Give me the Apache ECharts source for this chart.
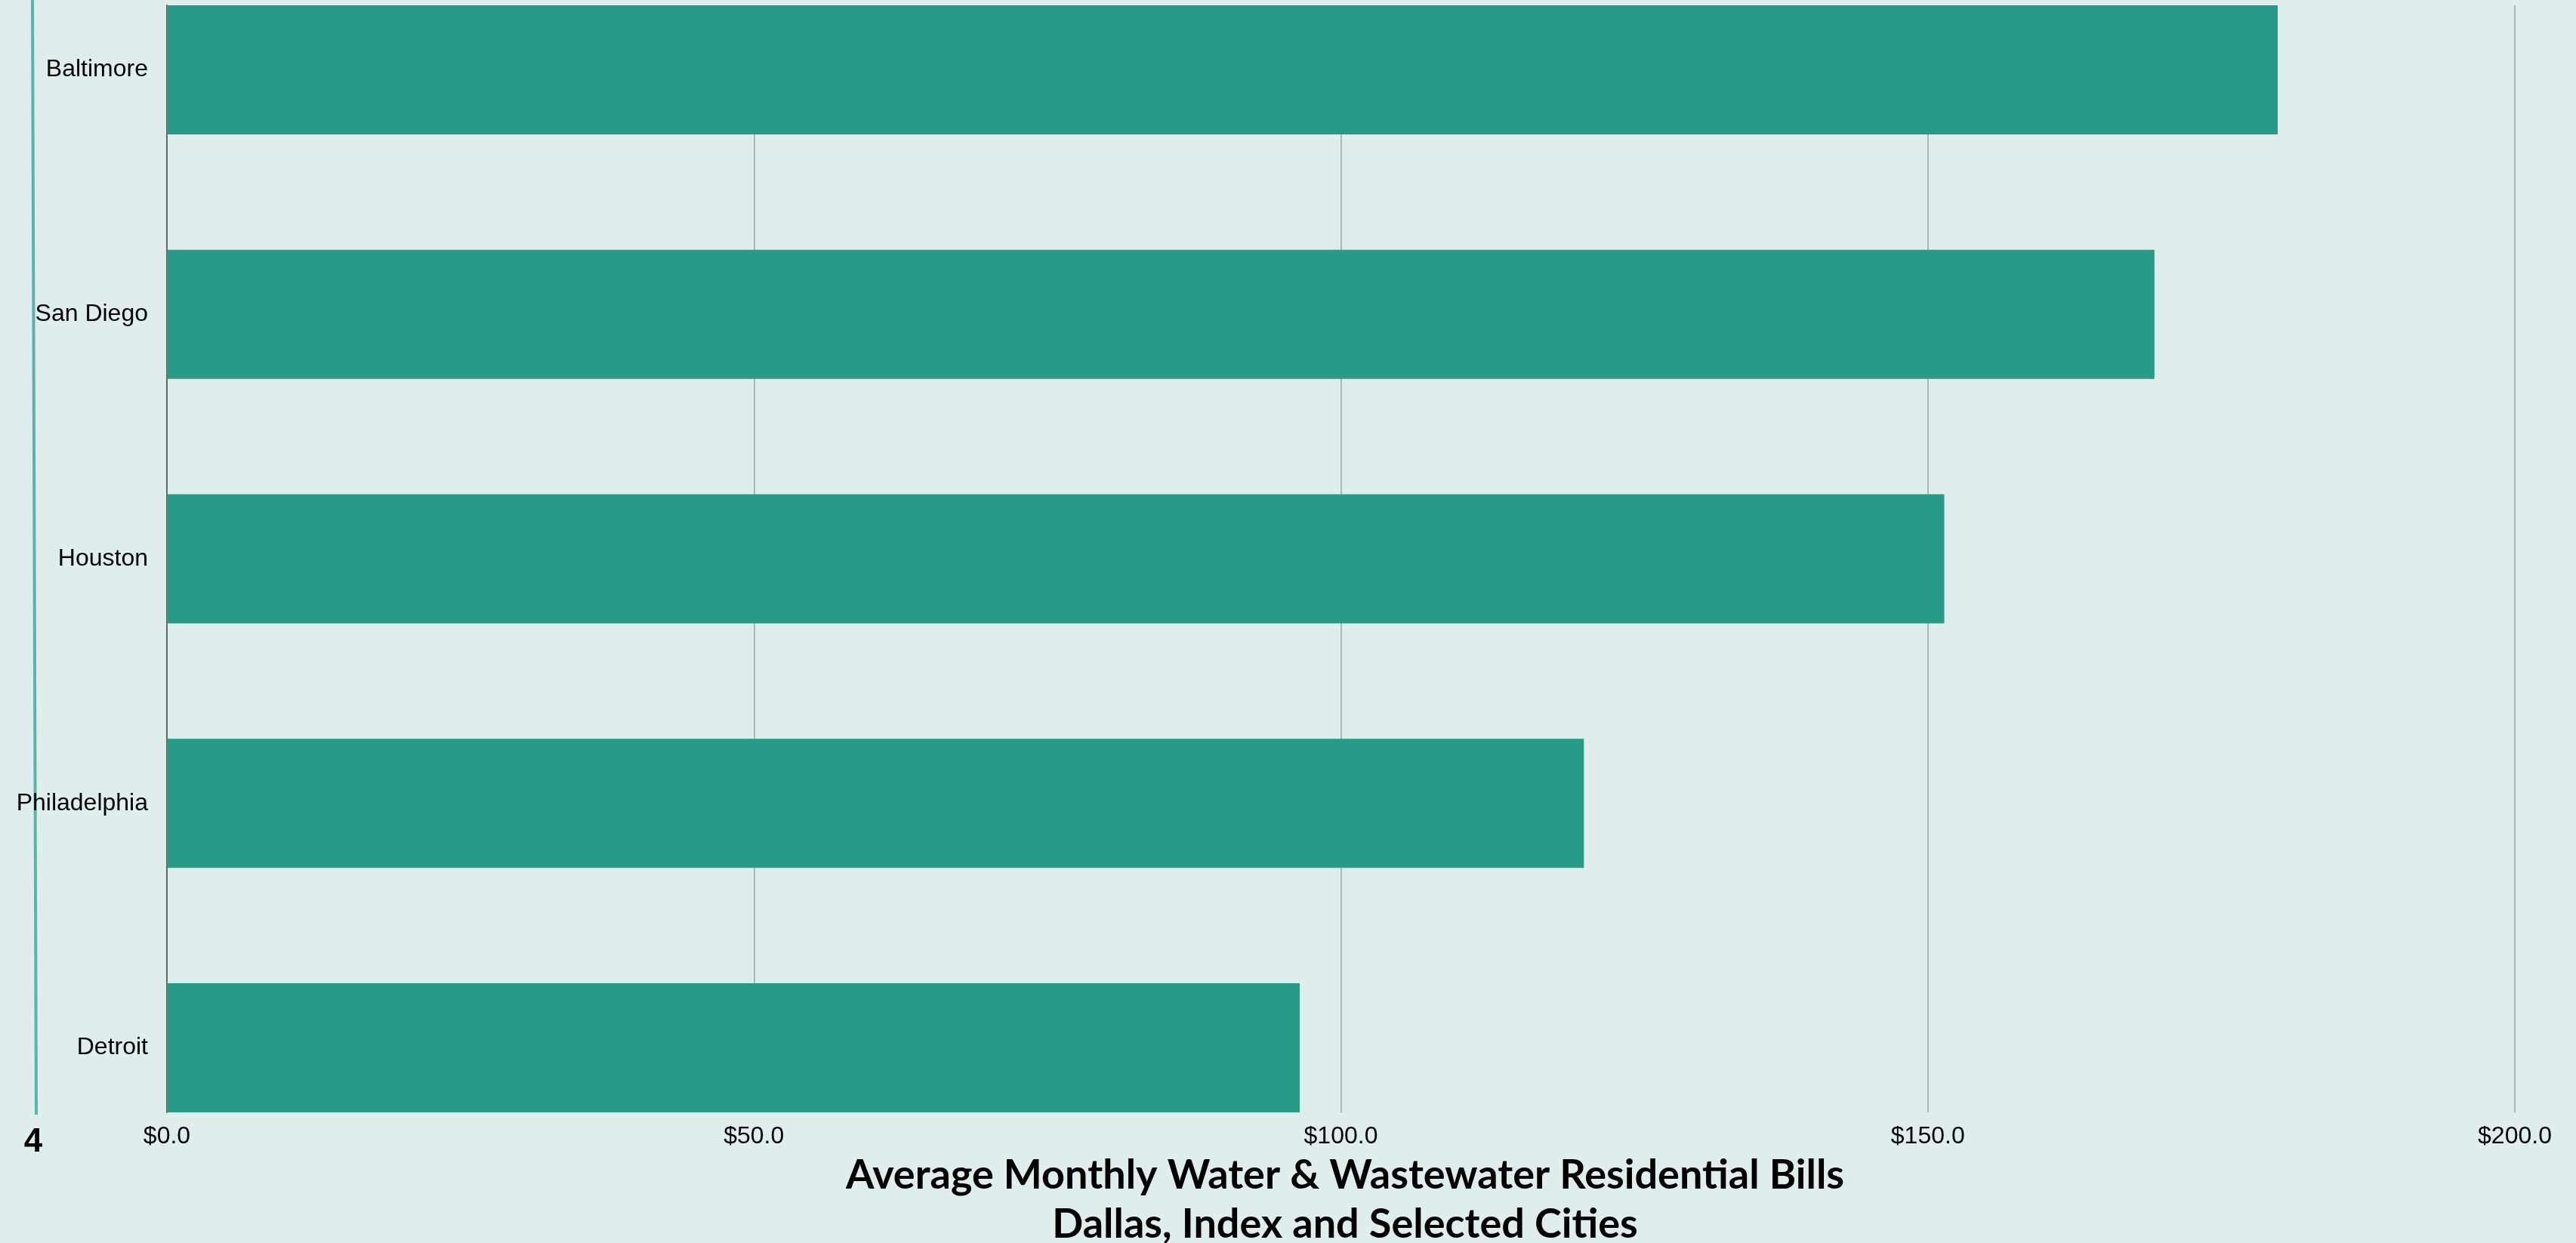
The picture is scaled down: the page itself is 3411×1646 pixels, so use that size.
<!DOCTYPE html>
<html><head><meta charset="utf-8">
<script src="https://cdn.jsdelivr.net/npm/echarts@6/dist/echarts.min.js"></script>
<style>html,body{margin:0;padding:0;background:#DFEEEC;}#c{width:3411px;height:1646px;}</style>
</head><body><div id="c"></div>
<script>
const cities = ['Baltimore', 'San Diego', 'Houston', 'Philadelphia', 'Detroit'];
const bills = [179.8, 169.3, 151.4, 120.7, 96.5];
const xTicks = [0, 50, 100, 150, 200];
const titleLines = ['Average Monthly Water & Wastewater Residential Bills', 'Dallas, Index and Selected Cities'];
const cornerLabel = '4';

const chart = echarts.init(document.getElementById('c'));
const option = {
  backgroundColor: '#DFEEEC',
  animation: false,
  title: {
    text: titleLines.join('\n'),
    left: 1776,
    textAlign: 'center',
    top: 1519,
    textStyle: { fontFamily: 'Lato', fontWeight: 'bold', fontSize: 54, lineHeight: 65, color: '#000' }
  },
  grid: [
    { left: 221, right: 81, top: 7, bottom: 173 },
    { left: 221, right: 81, top: 92.5, bottom: 258.5 }
  ],
  xAxis: [
    {
      gridIndex: 0, type: 'value', min: xTicks[0], max: xTicks[xTicks.length - 1], interval: xTicks[1] - xTicks[0],
      axisLine: { show: false }, axisTick: { show: false },
      axisLabel: { formatter: v => '$' + v.toFixed(1), fontFamily: 'Liberation Sans', fontSize: 32, color: '#000', margin: 16 },
      splitLine: { show: true, lineStyle: { color: '#A9BAB7', width: 2 } }
    },
    {
      gridIndex: 1, type: 'value', min: xTicks[0], max: xTicks[xTicks.length - 1], show: false
    }
  ],
  yAxis: [
    {
      gridIndex: 0, type: 'category', data: cities, inverse: true,
      axisLine: { show: true, lineStyle: { color: '#666', width: 2 } },
      axisTick: { show: false }, axisLabel: { show: false }, splitLine: { show: false }
    },
    {
      gridIndex: 1, type: 'category', data: cities, inverse: true, boundaryGap: false,
      axisLine: { show: false }, axisTick: { show: false }, splitLine: { show: false },
      axisLabel: { fontFamily: 'Liberation Sans', fontSize: 32, color: '#000', margin: 25 }
    }
  ],
  series: [{
    type: 'bar', xAxisIndex: 1, yAxisIndex: 1, data: bills, barWidth: 171,
    itemStyle: { color: '#279A89' }
  }],
  graphic: [
    { type: 'line', shape: { x1: 43, y1: 0, x2: 48, y2: 1476 }, style: { stroke: '#5AB4A9', lineWidth: 4 } },
    { type: 'text', x: 44, y: 1513, style: { text: cornerLabel, fontFamily: 'Liberation Sans', fontWeight: 'bold', fontSize: 44, fill: '#000', align: 'center', verticalAlign: 'middle' } }
  ]
};
chart.setOption(option);
</script>
</body></html>
